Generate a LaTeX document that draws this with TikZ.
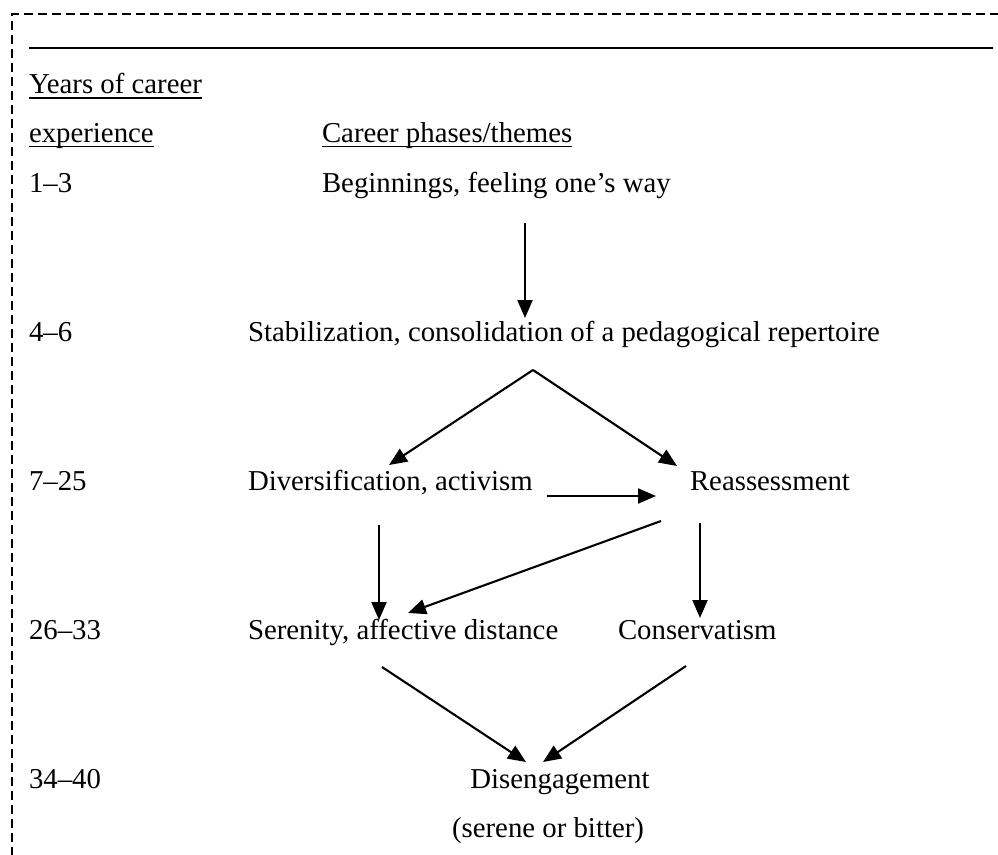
\documentclass[tikz,border=0pt]{standalone}
\usepackage{fontspec}
\setmainfont{Liberation Serif}
\usetikzlibrary{arrows.meta}
\tikzset{
  txt/.style={inner sep=0pt, outer sep=0pt, font=\fontsize{28.8}{34}\selectfont},
  lft/.style={txt, anchor=base west},
  mid/.style={txt, anchor=base},
  flow/.style={line width=2.1pt, -{Triangle[length=18pt,width=15pt]}},
  uline/.style={line width=1.6pt},
  frame/.style={line width=2.4pt, dash pattern=on 9pt off 5pt},
}
\begin{document}
\begin{tikzpicture}[x=1pt,y=-1pt]
\useasboundingbox (0,0) rectangle (998,854);

% dashed outer frame (continues past the right and bottom edges)
\draw[frame] (12,870) -- (12,14) -- (1010,14);
% rule under the frame top
\draw[line width=2.2pt] (29,48) -- (993,48);

% column headings
\node[lft] (yrs) at (29,93) {Years of career};
\node[lft] (exp) at (29,142) {experience};
\node[lft] (phs) at (322,142) {Career phases/themes};
\draw[uline] ([yshift=-5pt]yrs.base west) -- ([yshift=-5pt]yrs.base east);
\draw[uline] ([yshift=-4.5pt]exp.base west) -- ([yshift=-4.5pt]exp.base east);
\draw[uline] ([yshift=-4.5pt]phs.base west) -- ([yshift=-4.5pt]phs.base east);

% years column
\node[lft] (y1) at (29,192) {1--3};
\node[lft] (y2) at (29,341) {4--6};
\node[lft] (y3) at (29,490) {7--25};
\node[lft] (y4) at (29,639) {26--33};
\node[lft] (y5) at (29,788) {34--40};

% phases
\node[lft] (beg) at (322,192) {Beginnings, feeling one’s way};
\node[lft] (stab) at (248,341) {Stabilization, consolidation of a pedagogical repertoire};
\node[lft] (div) at (248,490) {Diversification, activism};
\node[mid] (reas) at (770,490) {Reassessment};
\node[lft] (ser) at (248,639) {Serenity, affective distance};
\node[lft] (cons) at (618,639) {Conservatism};
\node[mid] (dis) at (560,788) {Disengagement};
\node[mid] (bit) at (548,837) {(serene or bitter)};

% connector end points
\coordinate (begOut) at (525,223);
\coordinate (stabIn) at (525,318);
\coordinate (stabOut) at (533,370);
\coordinate (divIn) at (389,465);
\coordinate (reasIn) at (677,466);
\coordinate (divR) at (547,496);
\coordinate (reasL) at (656,496);
\coordinate (divOut) at (379,525);
\coordinate (serInA) at (379,620);
\coordinate (reasOutA) at (661,521);
\coordinate (serInB) at (408,613);
\coordinate (reasOutB) at (700,523);
\coordinate (consIn) at (700,618);
\coordinate (serOut) at (382,667);
\coordinate (disInA) at (526,762);
\coordinate (consOut) at (686,666);
\coordinate (disInB) at (543,762);

% transitions between phases
\draw[flow] (begOut) -- (stabIn);
\draw[flow] (stabOut) -- (divIn);
\draw[flow] (stabOut) -- (reasIn);
\draw[flow] (divR) -- (reasL);
\draw[flow] (divOut) -- (serInA);
\draw[flow] (reasOutA) -- (serInB);
\draw[flow] (reasOutB) -- (consIn);
\draw[flow] (serOut) -- (disInA);
\draw[flow] (consOut) -- (disInB);
\end{tikzpicture}
\end{document}
